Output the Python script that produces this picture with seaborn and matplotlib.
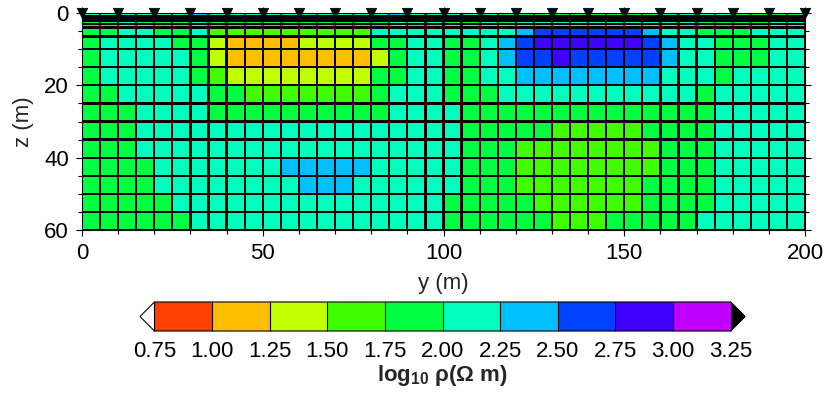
import numpy as np
import matplotlib
matplotlib.use("Agg")
import matplotlib.pyplot as plt
from matplotlib.colors import ListedColormap, BoundaryNorm
import seaborn as sns

# ---------------- data ----------------
# cell boundaries (m)
y_edges = [0, 5, 10, 15, 20, 25, 30, 35, 40, 45, 50, 55, 60, 65, 70, 75, 80, 85, 90, 95, 100,
           105, 110, 115, 120, 125, 130, 135, 140, 145, 150, 155, 160, 165, 170, 175, 180, 185, 190, 195, 200]
z_edges = [0, 0.75, 1.5, 2.25, 3.0, 4.0, 6.5, 10, 15, 20, 25, 30, 35, 40, 45, 50, 55, 60]

# electrode positions (m)
electrode_y = [0, 10, 20, 30, 40, 50, 60, 70, 80, 90, 100, 110, 120, 130, 140, 150, 160, 170, 180, 190, 200]

# log10 resistivity for each depth layer (40 cells of 5 m along y)
rho_z00 = [2.1, 2.1, 2.1, 2.1, 2.1, 2.1, 2.4, 2.1, 2.1, 2.1, 2.1, 2.1, 2.1, 2.1, 2.1, 2.1, 2.1, 2.4, 2.1, 2.1,
           2.1, 2.1, 2.1, 1.9, 1.9, 1.9, 1.9, 1.9, 1.9, 1.9, 1.9, 1.9, 2.1, 2.1, 2.1, 2.1, 1.9, 1.9, 1.9, 1.9]
rho_z01 = [1.9, 1.9, 1.9, 2.1, 2.1, 2.1, 2.1, 2.1, 2.1, 2.1, 2.1, 2.1, 2.1, 2.1, 2.1, 2.1, 2.1, 2.1, 2.1, 2.1,
           2.1, 2.1, 2.1, 2.1, 2.1, 2.1, 2.1, 2.1, 2.1, 2.1, 2.1, 2.1, 2.1, 2.1, 2.1, 2.1, 2.1, 2.1, 2.1, 2.1]
rho_z02 = [1.9, 1.9, 2.1, 2.1, 2.1, 1.9, 1.9, 2.1, 2.1, 2.1, 2.1, 2.1, 2.1, 1.9, 1.9, 1.9, 1.9, 2.1, 2.1, 2.1,
           2.1, 2.1, 2.1, 1.9, 2.1, 2.1, 2.1, 2.1, 2.1, 2.1, 2.1, 2.1, 1.9, 1.9, 2.1, 2.1, 2.1, 1.9, 1.9, 2.1]
rho_z03 = [1.9, 1.9, 2.1, 1.9, 1.9, 1.9, 2.1, 1.9, 1.9, 1.9, 1.9, 1.9, 1.9, 1.9, 1.9, 1.9, 1.9, 2.1, 2.1, 2.1,
           1.9, 1.9, 2.1, 1.9, 2.1, 2.1, 2.1, 2.1, 2.1, 2.1, 2.1, 2.1, 2.1, 2.1, 1.9, 1.9, 1.9, 1.9, 2.1, 2.1]
rho_z04 = [1.9, 1.9, 2.1, 2.1, 1.9, 1.9, 2.1, 1.9, 1.9, 1.9, 1.9, 1.9, 1.9, 1.9, 1.9, 1.9, 1.9, 2.1, 1.9, 1.9,
           2.1, 2.1, 2.1, 2.1, 2.1, 2.1, 2.1, 2.1, 2.1, 2.1, 2.1, 2.1, 2.1, 1.9, 1.9, 1.9, 1.9, 1.9, 2.1, 2.1]
rho_z05 = [1.9, 1.9, 2.1, 2.1, 1.9, 1.9, 2.1, 1.6, 1.6, 1.6, 1.6, 1.6, 1.6, 1.6, 1.6, 1.6, 2.1, 2.1, 2.1, 2.1,
           2.1, 2.1, 2.1, 2.1, 2.4, 2.6, 2.6, 2.6, 2.6, 2.6, 2.6, 2.4, 2.1, 2.1, 1.9, 1.9, 1.9, 2.1, 2.1, 2.1]
rho_z06 = [1.9, 2.1, 2.1, 2.1, 2.1, 1.9, 1.9, 1.4, 1.1, 1.1, 1.1, 1.1, 1.4, 1.4, 1.4, 1.4, 1.9, 1.9, 2.1, 2.1,
           1.9, 1.9, 2.1, 2.4, 2.6, 2.9, 2.9, 2.9, 2.9, 2.9, 2.9, 2.6, 2.4, 2.1, 2.1, 1.9, 1.9, 1.9, 2.1, 2.1]
rho_z07 = [1.9, 2.1, 2.1, 2.1, 2.1, 2.1, 1.9, 1.4, 1.1, 1.1, 1.1, 1.1, 1.1, 1.1, 1.1, 1.1, 1.4, 1.9, 2.1, 2.1,
           1.9, 1.9, 2.1, 2.4, 2.6, 2.6, 2.9, 2.6, 2.6, 2.6, 2.6, 2.6, 2.4, 2.1, 2.1, 1.9, 1.9, 1.9, 2.1, 2.1]
rho_z08 = [1.9, 2.1, 2.1, 2.1, 2.1, 2.1, 1.9, 1.6, 1.4, 1.4, 1.4, 1.4, 1.4, 1.4, 1.4, 1.4, 1.9, 1.9, 2.1, 2.1,
           1.9, 1.9, 2.1, 2.1, 2.4, 2.4, 2.4, 2.4, 2.4, 2.4, 2.4, 2.4, 2.1, 2.1, 2.1, 1.9, 2.1, 2.1, 2.1, 2.1]
rho_z09 = [1.9, 1.9, 2.1, 2.1, 2.1, 2.1, 2.1, 1.9, 1.9, 1.6, 1.6, 1.6, 1.6, 1.6, 1.6, 1.6, 1.9, 2.1, 2.1, 2.1,
           1.9, 1.9, 1.9, 2.1, 2.1, 2.1, 2.1, 2.1, 2.1, 2.1, 2.1, 2.1, 2.1, 2.1, 1.9, 2.1, 2.1, 2.1, 2.1, 2.1]
rho_z10 = [1.9, 1.9, 1.9, 2.1, 2.1, 2.1, 2.1, 1.9, 1.9, 1.9, 1.9, 1.9, 1.9, 1.9, 1.9, 1.9, 1.9, 2.1, 2.1, 2.1,
           2.1, 1.9, 1.9, 1.9, 1.9, 1.9, 1.9, 1.9, 1.9, 1.9, 1.9, 1.9, 1.9, 1.9, 1.9, 2.1, 2.1, 2.1, 2.1, 2.1]
rho_z11 = [1.9, 1.9, 1.9, 2.1, 2.1, 2.1, 2.1, 2.1, 2.1, 2.1, 2.1, 2.1, 2.1, 2.1, 2.1, 2.1, 2.1, 2.1, 2.1, 2.1,
           2.1, 1.9, 1.9, 1.9, 1.9, 1.9, 1.6, 1.6, 1.6, 1.6, 1.6, 1.9, 1.9, 1.9, 1.9, 2.1, 2.1, 2.1, 2.1, 2.1]
rho_z12 = [1.9, 1.9, 1.9, 2.1, 2.1, 2.1, 2.1, 2.1, 2.1, 2.1, 2.1, 2.1, 2.1, 2.1, 2.1, 2.1, 2.1, 2.1, 2.1, 2.1,
           2.1, 1.9, 1.9, 1.9, 1.6, 1.6, 1.6, 1.6, 1.6, 1.6, 1.6, 1.6, 1.9, 1.9, 1.9, 2.1, 2.1, 2.1, 2.1, 2.1]
rho_z13 = [1.9, 1.9, 1.9, 1.9, 2.1, 2.1, 2.1, 2.1, 2.1, 2.1, 2.1, 2.4, 2.4, 2.4, 2.4, 2.4, 2.1, 2.1, 2.1, 2.1,
           2.1, 1.9, 1.9, 1.9, 1.6, 1.6, 1.6, 1.6, 1.6, 1.6, 1.6, 1.6, 1.9, 1.9, 1.9, 2.1, 2.1, 2.1, 2.1, 2.1]
rho_z14 = [1.9, 1.9, 1.9, 1.9, 2.1, 2.1, 2.1, 2.1, 2.1, 2.1, 2.1, 2.1, 2.4, 2.4, 2.4, 2.1, 2.1, 2.1, 2.1, 2.1,
           2.1, 1.9, 1.9, 1.9, 1.6, 1.6, 1.6, 1.6, 1.6, 1.6, 1.6, 1.9, 1.9, 1.9, 1.9, 2.1, 2.1, 2.1, 2.1, 2.1]
rho_z15 = [1.9, 1.9, 1.9, 1.9, 1.9, 2.1, 2.1, 2.1, 2.1, 2.1, 2.1, 2.1, 2.1, 2.1, 2.1, 2.1, 2.1, 2.1, 2.1, 2.1,
           1.9, 1.9, 1.9, 1.9, 1.9, 1.6, 1.6, 1.6, 1.6, 1.6, 1.6, 1.9, 1.9, 1.9, 1.9, 2.1, 2.1, 2.1, 2.1, 2.1]
rho_z16 = [1.9, 1.9, 1.9, 1.9, 1.9, 1.9, 2.1, 2.1, 2.1, 2.1, 2.1, 2.1, 2.1, 2.1, 2.1, 2.1, 2.1, 2.1, 2.1, 2.1,
           1.9, 1.9, 1.9, 1.9, 1.9, 1.9, 1.6, 1.6, 1.6, 1.9, 1.9, 1.9, 1.9, 1.9, 2.1, 2.1, 2.1, 2.1, 2.1, 2.1]

# colour classes
levels = [0.75, 1.00, 1.25, 1.50, 1.75, 2.00, 2.25, 2.50, 2.75, 3.00, 3.25]
class_colors = ["#FF4000", "#FFBF00", "#BFFF00", "#40FF00", "#00FF40",
                "#00FFBF", "#00BFFF", "#0040FF", "#4000FF", "#BF00FF"]

# ---------------- plot ----------------
sns.set_theme(style="ticks")
plt.rcParams['font.family'] = ['Liberation Sans', 'DejaVu Sans']
plt.rcParams['mathtext.fontset'] = 'custom'
plt.rcParams['mathtext.rm'] = 'Liberation Sans'
plt.rcParams['mathtext.bf'] = 'Liberation Sans:bold'
plt.rcParams['axes.edgecolor'] = 'black'
plt.rcParams['xtick.color'] = 'black'
plt.rcParams['ytick.color'] = 'black'

FS = 16

grid = np.array([rho_z00, rho_z01, rho_z02, rho_z03, rho_z04, rho_z05, rho_z06, rho_z07, rho_z08,
                 rho_z09, rho_z10, rho_z11, rho_z12, rho_z13, rho_z14, rho_z15, rho_z16])

cmap = ListedColormap(class_colors)
cmap.set_under("white")
cmap.set_over("black")
norm = BoundaryNorm(levels, cmap.N)

W, H = 827, 393
fig = plt.figure(figsize=(W / 100, H / 100), dpi=100)
ax = fig.add_axes([82 / W, 1 - 230 / H, 723 / W, 217 / H])

mesh = ax.pcolormesh(y_edges, z_edges, grid, cmap=cmap, norm=norm,
                     edgecolors="black", linewidth=0.9, snap=False)
sns.scatterplot(x=electrode_y, y=[0] * len(electrode_y), marker="v", s=55,
                color="black", edgecolor="black", ax=ax, legend=False,
                clip_on=False, zorder=6)

ax.set_xlim(0, 200)
ax.set_ylim(60, 0)
ax.set_xticks([0, 50, 100, 150, 200])
ax.set_xticks(np.arange(0, 201, 10), minor=True)
ax.set_yticks([0, 20, 40, 60])
ax.set_yticks(np.arange(0, 61, 5), minor=True)
ax.tick_params(which="both", direction="out", right=True, width=0.8,
               labelsize=FS, colors="black", pad=5)
ax.tick_params(which="major", length=4.5, top=True)
ax.tick_params(which="minor", length=3)
for s in ax.spines.values():
    s.set_linewidth(0.8)
    s.set_color("black")
ax.set_xlabel("y (m)", fontsize=FS, labelpad=6)
ax.set_ylabel("z (m)", fontsize=FS, labelpad=7)

cax = fig.add_axes([140 / W, 1 - 331 / H, 605 / W, 29 / H])
cb = fig.colorbar(mesh, cax=cax, orientation="horizontal", extend="both",
                  extendfrac=0.025, ticks=levels, drawedges=True)
cb.outline.set_linewidth(0.8)
cb.outline.set_edgecolor("black")
cb.dividers.set_linewidth(0.8)
cb.dividers.set_color("black")
cb.ax.set_xticklabels([f"{v:.2f}" for v in levels])
cb.ax.tick_params(length=0, labelsize=FS, pad=7, colors="black")
cb.set_label(r"log$_{\mathbf{10}}$ ρ(Ω m)", fontsize=FS, fontweight="bold", labelpad=1)

fig.savefig("out.png", dpi=100)
